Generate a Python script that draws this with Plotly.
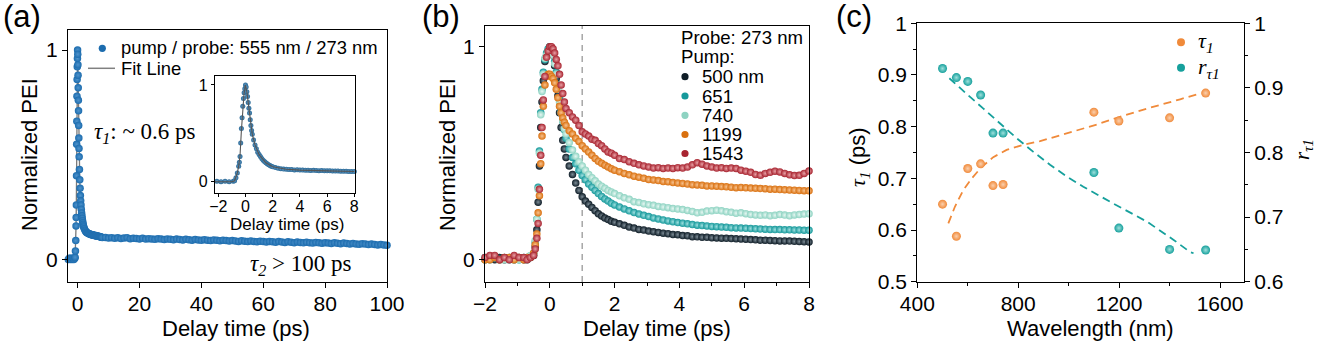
import plotly.graph_objects as go

# ---------------------------------------------------------------- data
# (a) pump 555 nm / probe 273 nm transient, delay time in ps
t_a = [-3.0, -2.7, -2.4, -2.1, -1.8, -1.5, -1.2, -0.9,
       -0.8, -0.7, -0.6, -0.5, -0.45, -0.4, -0.35, -0.3, -0.25, -0.2, -0.15, -0.1, -0.05, 0.0, 0.05,
       0.1, 0.15, 0.2, 0.25, 0.3, 0.35, 0.4, 0.45, 0.5,
       0.6, 0.7, 0.8, 0.9, 1.0, 1.1, 1.2, 1.3, 1.4, 1.5, 1.6, 1.7, 1.8, 1.9, 2.0,
       2.2, 2.4, 2.6, 2.8, 3.0, 3.2, 3.4, 3.6, 3.8, 4.0, 4.2, 4.4, 4.6, 4.8, 5.0,
       5.2, 5.4, 5.6, 5.8, 6.0, 6.2, 6.4, 6.6, 6.8, 7.0, 7.2, 7.4, 7.6, 7.8, 8.0,
       9, 10, 11, 12, 13, 14, 15, 16, 17, 18, 19, 20, 21, 22, 23, 24, 25, 26, 27, 28,
       29, 30, 31, 32, 33, 34, 35, 36, 37, 38, 39, 40, 41, 42, 43, 44, 45, 46, 47, 48,
       49, 50, 51, 52, 53, 54, 55, 56, 57, 58, 59, 60, 61, 62, 63, 64, 65, 66, 67, 68,
       69, 70, 71, 72, 73, 74, 75, 76, 77, 78, 79, 80, 81, 82, 83, 84, 85, 86, 87, 88,
       89, 90, 91, 92, 93, 94, 95, 96, 97, 98, 99, 100]
pei_a = [0.0, 0.005, 0.0, 0.005, 0.0, 0.005, 0.0, 0.005,
         0.01, 0.04, 0.09, 0.16, 0.2, 0.26, 0.40, 0.55, 0.66, 0.78, 0.86, 0.92, 0.96, 1.0, 0.98,
         0.93, 0.88, 0.82, 0.76, 0.71, 0.64, 0.58, 0.53, 0.49,
         0.43, 0.38, 0.34, 0.305, 0.28, 0.26, 0.24, 0.222, 0.208, 0.196, 0.185, 0.175, 0.167, 0.16, 0.154,
         0.146, 0.139, 0.135, 0.130, 0.129, 0.126, 0.125, 0.122, 0.123, 0.120, 0.120, 0.118, 0.118, 0.116, 0.117,
         0.115, 0.114, 0.115, 0.113, 0.112, 0.113, 0.111, 0.110, 0.111, 0.109, 0.108, 0.108, 0.106, 0.106, 0.105,
         0.105, 0.102, 0.104, 0.101, 0.103, 0.100, 0.102, 0.104, 0.099, 0.101, 0.100, 0.098, 0.101, 0.097, 0.099, 0.098, 0.096, 0.099, 0.097, 0.095,
         0.098, 0.096, 0.094, 0.097, 0.095, 0.093, 0.096, 0.094, 0.092, 0.095, 0.093, 0.091, 0.094, 0.092, 0.090, 0.093, 0.091, 0.089, 0.092, 0.090,
         0.088, 0.090, 0.088, 0.086, 0.089, 0.087, 0.085, 0.088, 0.086, 0.084, 0.087, 0.085, 0.083, 0.086, 0.084, 0.082, 0.085, 0.083, 0.081, 0.084,
         0.082, 0.080, 0.083, 0.081, 0.079, 0.082, 0.080, 0.078, 0.081, 0.079, 0.077, 0.080, 0.078, 0.076, 0.079, 0.077, 0.075, 0.078, 0.076, 0.074,
         0.076, 0.074, 0.072, 0.075, 0.073, 0.071, 0.073, 0.071, 0.069, 0.071, 0.069, 0.067]

# (a) fitted curve
t_fit_a = [-3.0, -1.0, -0.8, -0.6, -0.5, -0.4, -0.3, -0.2, -0.1, 0.0, 0.1, 0.2, 0.3, 0.4, 0.5,
           0.7, 1.0, 1.5, 2.0, 3.0, 4.0, 6.0, 8.0, 20, 40, 60, 80, 100]
pei_fit_a = [0.0, 0.0, 0.01, 0.09, 0.16, 0.27, 0.53, 0.78, 0.92, 1.0, 0.93, 0.82, 0.71, 0.58, 0.49,
             0.38, 0.28, 0.196, 0.154, 0.128, 0.12, 0.112, 0.105, 0.098, 0.091, 0.084, 0.078, 0.067]

# (b) probe 273 nm, several pump wavelengths
t_b = [-2.0, -1.85, -1.7, -1.55, -1.4, -1.25, -1.1, -0.95, -0.8, -0.7, -0.6,
       -0.5, -0.45, -0.4, -0.36, -0.32, -0.28, -0.24, -0.2, -0.15, -0.1, -0.05, 0.0,
       0.05, 0.1, 0.15, 0.2, 0.25, 0.3, 0.35, 0.4, 0.45, 0.5,
       0.6, 0.7, 0.8, 0.9, 1.0, 1.1, 1.2, 1.3, 1.4, 1.5, 1.6, 1.7, 1.8, 1.9, 2.0,
       2.15, 2.3, 2.45, 2.6, 2.75, 2.9, 3.05, 3.2, 3.35, 3.5,
       3.65, 3.8, 3.95, 4.1, 4.25, 4.4, 4.55, 4.7, 4.85, 5.0,
       5.15, 5.3, 5.45, 5.6, 5.75, 5.9, 6.05, 6.2, 6.35, 6.5,
       6.65, 6.8, 6.95, 7.1, 7.25, 7.4, 7.55, 7.7, 7.85, 8.0]
pump_labels = ["500 nm", "651", "740", "1199", "1543"]
pei_500 = [0.00, 0.01, 0.00, 0.01, 0.00, 0.01, 0.00, 0.01, 0.00, 0.01, 0.01,
           0.02, 0.06, 0.14, 0.27, 0.44, 0.62, 0.74, 0.84, 0.93, 0.96, 0.98, 1.00,
           0.99, 0.96, 0.91, 0.85, 0.77, 0.69, 0.62, 0.56, 0.52, 0.48,
           0.44, 0.40, 0.36, 0.325, 0.295, 0.275, 0.26, 0.245, 0.23, 0.215, 0.205, 0.195, 0.188, 0.18, 0.175,
           0.168, 0.161, 0.153, 0.148, 0.142, 0.139, 0.134, 0.131, 0.128, 0.124,
           0.122, 0.118, 0.117, 0.113, 0.112, 0.108, 0.107, 0.105, 0.105, 0.103,
           0.102, 0.101, 0.100, 0.099, 0.098, 0.097, 0.096, 0.094, 0.093, 0.091,
           0.091, 0.090, 0.089, 0.088, 0.088, 0.087, 0.086, 0.085, 0.084, 0.083]
pei_651 = [0.01, 0.00, 0.01, 0.00, 0.01, 0.00, 0.01, 0.00, 0.01, 0.00, 0.01,
           0.03, 0.08, 0.19, 0.34, 0.51, 0.69, 0.80, 0.88, 0.94, 0.97, 0.99, 1.00,
           0.99, 0.97, 0.93, 0.88, 0.82, 0.76, 0.70, 0.65, 0.61, 0.57,
           0.52, 0.48, 0.45, 0.42, 0.395, 0.375, 0.355, 0.34, 0.325, 0.31, 0.297, 0.285, 0.275, 0.265, 0.257,
           0.247, 0.238, 0.229, 0.221, 0.214, 0.208, 0.202, 0.196, 0.191, 0.186,
           0.182, 0.178, 0.174, 0.171, 0.168, 0.165, 0.162, 0.160, 0.158, 0.156,
           0.155, 0.153, 0.152, 0.150, 0.149, 0.148, 0.147, 0.146, 0.145, 0.144,
           0.143, 0.142, 0.141, 0.141, 0.140, 0.140, 0.139, 0.139, 0.138, 0.138]
pei_740 = [0.00, 0.01, 0.01, 0.00, 0.00, 0.01, 0.00, 0.00, 0.01, 0.01, 0.02,
           0.03, 0.09, 0.19, 0.33, 0.50, 0.68, 0.79, 0.87, 0.945, 0.96, 0.98, 0.99,
           0.98, 0.96, 0.92, 0.87, 0.80, 0.74, 0.69, 0.65, 0.615, 0.59,
           0.55, 0.515, 0.485, 0.46, 0.44, 0.42, 0.40, 0.385, 0.37, 0.355, 0.345, 0.335, 0.325, 0.318, 0.31,
           0.300, 0.290, 0.283, 0.272, 0.268, 0.262, 0.258, 0.255, 0.250, 0.247,
           0.244, 0.240, 0.238, 0.235, 0.231, 0.226, 0.220, 0.222, 0.228, 0.230,
           0.232, 0.229, 0.225, 0.222, 0.218, 0.220, 0.216, 0.212, 0.210, 0.208,
           0.210, 0.206, 0.208, 0.212, 0.209, 0.206, 0.210, 0.212, 0.214, 0.216]
pei_1199 = [0.00, 0.00, 0.01, 0.00, 0.01, 0.01, 0.00, 0.01, 0.00, 0.01, 0.01,
            0.03, 0.07, 0.12, 0.22, 0.30, 0.45, 0.58, 0.72, 0.82, 0.86, 0.87, 0.87,
            0.86, 0.85, 0.83, 0.80, 0.76, 0.72, 0.69, 0.665, 0.645, 0.63,
            0.605, 0.59, 0.57, 0.555, 0.535, 0.52, 0.505, 0.49, 0.475, 0.462, 0.452, 0.443, 0.435, 0.427, 0.42,
            0.413, 0.405, 0.398, 0.392, 0.387, 0.382, 0.376, 0.374, 0.371, 0.367,
            0.366, 0.362, 0.360, 0.358, 0.355, 0.352, 0.351, 0.349, 0.346, 0.346,
            0.345, 0.343, 0.342, 0.340, 0.338, 0.339, 0.337, 0.336, 0.335, 0.334,
            0.333, 0.331, 0.331, 0.329, 0.328, 0.327, 0.326, 0.325, 0.324, 0.323]
pei_1543 = [0.01, 0.02, 0.02, 0.00, 0.01, 0.00, 0.02, 0.01, 0.01, 0.00, 0.01,
            0.02, 0.05, 0.10, 0.17, 0.33, 0.49, 0.62, 0.75, 0.86, 0.95, 0.98, 1.00,
            1.00, 0.99, 0.97, 0.94, 0.91, 0.87, 0.82, 0.78, 0.74, 0.71,
            0.69, 0.67, 0.655, 0.63, 0.60, 0.59, 0.58, 0.565, 0.56, 0.545, 0.535, 0.52, 0.505, 0.50, 0.49,
            0.475, 0.470, 0.460, 0.452, 0.445, 0.440, 0.435, 0.430, 0.432, 0.428,
            0.430, 0.428, 0.432, 0.430, 0.435, 0.445, 0.455, 0.448, 0.440, 0.435,
            0.430, 0.432, 0.428, 0.430, 0.428, 0.420, 0.415, 0.410, 0.400, 0.396,
            0.405, 0.410, 0.415, 0.412, 0.405, 0.398, 0.395, 0.396, 0.405, 0.416]
gate_b = 1.0  # dashed marker at 1 ps

# (c) tau1 and its ratio versus pump wavelength
wavelength = [500, 555, 600, 651, 700, 740, 1100, 1199, 1400, 1543]
tau1 = [0.650, 0.588, 0.719, 0.728, 0.686, 0.688, 0.828, 0.811, 0.817, 0.865]
r_tau1 = [0.930, 0.916, 0.910, 0.889, 0.830, 0.830, 0.769, 0.683, 0.650, 0.649]
fit_wl_tau = [523, 549, 582, 616, 655, 701, 754, 820, 887, 966, 1045, 1111, 1177, 1310, 1442, 1520]
fit_tau = [0.613, 0.645, 0.677, 0.700, 0.722, 0.741, 0.755, 0.765, 0.772, 0.783, 0.794, 0.804, 0.815, 0.835, 0.853, 0.864]
fit_wl_r = [527, 563, 609, 662, 728, 794, 860, 926, 992, 1058, 1177, 1310, 1415, 1481, 1495]
fit_r = [0.915, 0.902, 0.886, 0.868, 0.845, 0.822, 0.801, 0.781, 0.763, 0.747, 0.721, 0.693, 0.665, 0.646, 0.644]

for ys in (pei_500, pei_651, pei_740, pei_1199, pei_1543):
    assert len(ys) == len(t_b), (len(ys), len(t_b))
assert len(pei_a) == len(t_a), (len(pei_a), len(t_a))
assert len(pei_fit_a) == len(t_fit_a)

# ---------------------------------------------------------------- layout helpers
W, H = 1318, 344
SANS = "Liberation Sans, Arial, sans-serif"
SERIF = "Liberation Serif, Times New Roman, serif"
TICK = 21
TITLE = 22


def fx(px):
    return px / W


def fy(py):
    return 1 - py / H


def axis_style(**kw):
    base = dict(showline=True, linecolor="black", linewidth=1.3, mirror=True,
                ticks="outside", ticklen=5, tickwidth=1.2, tickcolor="black",
                showgrid=False, zeroline=False, automargin=False,
                tickfont=dict(family=SANS, size=TICK, color="black"))
    base.update(kw)
    return base


def minor(vals):
    return dict(tickvals=vals, ticks="outside", ticklen=3, tickcolor="black", tickwidth=1.2)


def dots(color, glow, size):
    return dict(color=color, size=size, line=dict(width=0),
                gradient=dict(type="radial", color=glow))


fig = go.Figure()

# (a) main
fig.add_trace(go.Scatter(x=t_fit_a, y=pei_fit_a, mode="lines", xaxis="x", yaxis="y",
                         line=dict(color="#7a7a7a", width=1.3), showlegend=False))
fig.add_trace(go.Scatter(x=t_a, y=pei_a, mode="markers", xaxis="x", yaxis="y",
                         marker=dots("#1c6cae", "#4f93cc", 7.5), cliponaxis=False, showlegend=False))
# (a) inset
inset_t = [t for t in t_a if -2.3 <= t <= 8.0]
inset_v = [v for t, v in zip(t_a, pei_a) if -2.3 <= t <= 8.0]
fit_in_t = [t for t in t_fit_a if t <= 8.0]
fit_in_v = [v for t, v in zip(t_fit_a, pei_fit_a) if t <= 8.0]
fig.add_trace(go.Scatter(x=inset_t, y=inset_v, mode="markers", xaxis="x2", yaxis="y2",
                         marker=dots("#2a6a98", "#6a9cc4", 5), cliponaxis=False, showlegend=False))
fig.add_trace(go.Scatter(x=fit_in_t, y=fit_in_v, mode="lines", xaxis="x2", yaxis="y2",
                         line=dict(color="#555555", width=1.1), showlegend=False))

# (b)
colors_b = ["#0f1d27", "#17999b", "#8ed3c2", "#d9700f", "#a82430"]
glows_b = ["#7d8c96", "#9fe0e0", "#e6f7f2", "#f7c28f", "#e8a0a5"]
series_b = [pei_500, pei_651, pei_740, pei_1199, pei_1543]
for ys, c, g in zip(series_b, colors_b, glows_b):
    fig.add_trace(go.Scatter(x=t_b, y=ys, mode="markers", xaxis="x3", yaxis="y3",
                             marker=dots(c, g, 7.5), cliponaxis=False, showlegend=False))

# (c)
c_or, c_te = "#f08a3a", "#16a09c"
fig.add_trace(go.Scatter(x=fit_wl_tau, y=fit_tau, mode="lines", xaxis="x4", yaxis="y4",
                         line=dict(color=c_or, width=1.8, dash="8px,5px"), showlegend=False))
fig.add_trace(go.Scatter(x=fit_wl_r, y=fit_r, mode="lines", xaxis="x4", yaxis="y5",
                         line=dict(color=c_te, width=1.8, dash="8px,5px"), showlegend=False))
fig.add_trace(go.Scatter(x=wavelength, y=tau1, mode="markers", xaxis="x4", yaxis="y4",
                         marker=dots(c_or, "#fbd0ae", 9), cliponaxis=False, showlegend=False))
fig.add_trace(go.Scatter(x=wavelength, y=r_tau1, mode="markers", xaxis="x4", yaxis="y5",
                         marker=dots(c_te, "#9ee0dc", 9), cliponaxis=False, showlegend=False))

inset_font = dict(family=SANS, size=16, color="black")
fig.update_layout(
    template="none",
    width=W, height=H, margin=dict(l=0, r=0, t=0, b=0, autoexpand=False),
    paper_bgcolor="white", plot_bgcolor="white", showlegend=False,
    font=dict(family=SANS, size=TITLE, color="black"),
    xaxis=axis_style(domain=[fx(68), fx(387)], range=[-3.1, 100], anchor="y",
                     tickvals=[0, 20, 40, 60, 80, 100], ticklabelstandoff=-2),
    yaxis=axis_style(domain=[fy(282), fy(30)], range=[-0.108, 1.096], anchor="x",
                     tickvals=[0, 1]),
    xaxis2=axis_style(domain=[fx(215), fx(355)], range=[-2.24, 8.05], anchor="y2",
                      tickvals=[-2, 0, 2, 4, 6, 8], ticklen=3, linewidth=1.1,
                      ticklabelstandoff=-4, tickfont=inset_font),
    yaxis2=axis_style(domain=[fy(192.7), fy(76)], range=[-0.114, 1.093], anchor="x2",
                      tickvals=[0, 1], ticklen=3, linewidth=1.1, tickfont=inset_font),
    xaxis3=axis_style(domain=[fx(485), fx(809)], range=[-2, 8], anchor="y3",
                      tickvals=[-2, 0, 2, 4, 6, 8], minor=minor([-1, 1, 3, 5, 7]),
                      ticklabelstandoff=-2),
    yaxis3=axis_style(domain=[fy(282), fy(26)], range=[-0.105, 1.097], anchor="x3",
                      tickvals=[0, 1]),
    xaxis4=axis_style(domain=[fx(917.3), fx(1244)], range=[400, 1695], anchor="y4",
                      tickvals=[400, 800, 1200, 1600], minor=minor([600, 1000, 1400]),
                      ticklabelstandoff=-2),
    yaxis4=axis_style(domain=[fy(281.7), fy(23.3)], range=[0.5, 1.0], anchor="x4",
                      tickvals=[0.5, 0.6, 0.7, 0.8, 0.9, 1.0],
                      ticktext=["0.5", "0.6", "0.7", "0.8", "0.9", "1"],
                      minor=minor([0.55, 0.65, 0.75, 0.85, 0.95])),
    yaxis5=axis_style(domain=[fy(281.7), fy(23.3)], range=[0.6, 1.0], anchor="x4",
                      overlaying="y4", side="right", mirror=False,
                      tickvals=[0.6, 0.7, 0.8, 0.9, 1.0], ticktext=["0.6", "0.7", "0.8", "0.9", "1"],
                      minor=minor([0.65, 0.75, 0.85, 0.95])),
)

ann = []


def text(px, py, s, size=TITLE, family=SANS, xanchor="center", angle=0, color="black"):
    ann.append(dict(x=fx(px), y=fy(py), xref="paper", yref="paper", text=s, showarrow=False,
                    xanchor=xanchor, yanchor="middle", textangle=angle,
                    font=dict(family=family, size=size, color=color)))


# panel tags
text(1, 17, "(a)", size=31, xanchor="left")
text(420, 17, "(b)", size=31, xanchor="left")
text(834, 17, "(c)", size=31, xanchor="left")

# axis titles
text(236, 328, "Delay time (ps)")
text(29, 155, "Normalized PEI", angle=-90)
text(287, 224, "Delay time (ps)", size=17)
text(657, 328, "Delay time (ps)")
text(447, 155, "Normalized PEI", angle=-90)
text(1090, 328, "Wavelength (nm)")
text(859, 157, "<span style='font-family:Liberation Serif'><i>τ<sub>1</sub></i></span> (ps)", angle=-90)
text(1303, 150, "<i>r<sub>τ1</sub></i>", family=SERIF, angle=-90, size=21)

# annotations inside (a)
text(92, 133, "<i>τ<sub>1</sub></i>: ~ 0.6 ps", size=23, family=SERIF, xanchor="left")
text(248, 265, "<i>τ<sub>2</sub></i> > 100 ps", size=23, family=SERIF, xanchor="left")

# legend (a)
text(119, 47, "pump / probe: 555 nm / 273 nm", size=18.4, xanchor="left")
text(119, 68, "Fit Line", size=18.4, xanchor="left")

# legend (b)
text(679, 38, "Probe: 273 nm", size=18.6, xanchor="left")
text(679, 57, "Pump:", size=18.6, xanchor="left")
rows_b = [76.7, 96, 115.3, 134.5, 153.5]
for lab, y in zip(pump_labels, rows_b):
    text(700, y, lab, size=18.6, xanchor="left")

# legend (c)
text(1196, 42, "<i>τ<sub>1</sub></i>", size=22, family=SERIF, xanchor="left")
text(1196, 68, "<i>r<sub>τ1</sub></i>", size=22, family=SERIF, xanchor="left")

fig.update_layout(annotations=ann)

shapes = [dict(type="line", xref="x3", yref="y3 domain", x0=gate_b, x1=gate_b, y0=0, y1=1,
               line=dict(color="#a0a0a0", width=1.4, dash="6px,5px"), layer="below"),
          dict(type="line", xref="paper", yref="paper", x0=fx(88), x1=fx(115), y0=fy(68.3), y1=fy(68.3),
               line=dict(color="#808080", width=1.5))]


def key_dot(px, py, color, r=3.6):
    shapes.append(dict(type="circle", xref="paper", yref="paper", xsizemode="pixel", ysizemode="pixel",
                       xanchor=fx(px), yanchor=fy(py), x0=-r, x1=r, y0=-r, y1=r,
                       fillcolor=color, line=dict(width=0)))


key_dot(102.3, 48.3, "#1c6cae")
for c, y in zip(colors_b, rows_b):
    key_dot(685, y, c)
key_dot(1181, 42.3, c_or, 4)
key_dot(1181, 67.7, c_te, 4)

fig.update_layout(shapes=shapes)
fig.write_html("out.html")
